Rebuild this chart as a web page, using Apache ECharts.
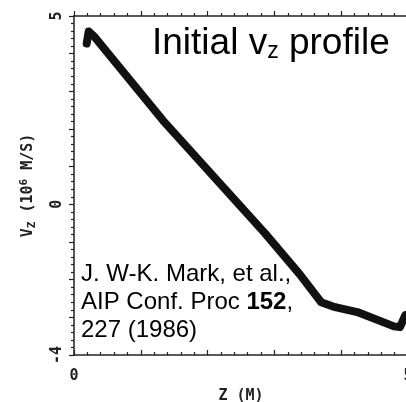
<!DOCTYPE html>
<html>
<head>
<meta charset="utf-8">
<script src="https://cdn.jsdelivr.net/npm/echarts@6/dist/echarts.min.js"></script>
<style>
  html, body { margin: 0; padding: 0; background: #fff; }
  #chart { width: 406px; height: 402px; }
</style>
</head>
<body>
<div id="chart"></div>
<script>
// z in metres, vz in 10^6 m/s
const zVals = [0.19, 0.22, 0.30, 1.33, 2.86, 3.38, 3.70, 3.91, 4.24, 4.79, 4.88, 4.96];
const vzVals = [4.27, 4.59, 4.46, 2.23, -0.77, -1.86, -2.60, -2.73, -2.86, -3.24, -3.26, -2.94];
const xTickLabels = ['0', '5'];
const yTickLabels = { '5': '5', '0': '0', '-4': '-4' };

const plotFont = '"DejaVu Sans Mono", monospace';
const textFont = '"Liberation Sans", Arial, sans-serif';
const ink = '#222';

const chart = echarts.init(document.getElementById('chart'));

const tickStyle = { color: ink, width: 1.2 };

chart.setOption({
  animation: false,
  backgroundColor: '#fff',
  grid: { left: 74, top: 16, right: -2, bottom: 47, outerBoundsMode: 'none' },
  xAxis: [{
    type: 'value', position: 'bottom', min: 0, max: 5, interval: 1,
    name: 'Z (M)', nameLocation: 'middle', nameGap: 34,
    nameTextStyle: { fontFamily: plotFont, fontSize: 15, fontWeight: 'bold', color: ink },
    axisLine: { onZero: false, lineStyle: { color: ink, width: 1.5 } },
    axisTick: { inside: true, length: 5, lineStyle: tickStyle },
    minorTick: { show: true, splitNumber: 5, length: 3, lineStyle: tickStyle },
    splitLine: { show: false },
    axisLabel: {
      margin: 14, fontFamily: plotFont, fontSize: 15, fontWeight: 'bold', color: ink,
      formatter: v => (v === 0 ? xTickLabels[0] : v === 5 ? xTickLabels[1] : '')
    }
  }, {
    type: 'value', position: 'top', min: 0, max: 5, interval: 1,
    axisLine: { onZero: false, lineStyle: { color: ink, width: 1.5 } },
    axisTick: { inside: false, length: 5, lineStyle: tickStyle },
    minorTick: { show: true, splitNumber: 5, length: 3, lineStyle: tickStyle },
    splitLine: { show: false },
    axisLabel: { show: false }
  }],
  yAxis: {
    type: 'value', min: -4, max: 5, interval: 1,
    name: '{n|V}{sub|Z}{n| (10}{sup|6}{n| M/S)}',
    nameLocation: 'middle', nameGap: 36, nameRotate: 90,
    nameTextStyle: {
      rich: {
        n: { fontFamily: plotFont, fontSize: 15, fontWeight: 'bold', color: ink },
        sub: { fontFamily: plotFont, fontSize: 11, fontWeight: 'bold', color: ink, padding: [8, 0, 0, 0] },
        sup: { fontFamily: plotFont, fontSize: 11, fontWeight: 'bold', color: ink, padding: [0, 0, 8, 0] }
      }
    },
    axisLine: { onZero: false, lineStyle: { color: ink, width: 1.5 } },
    axisTick: { inside: false, length: 5, lineStyle: tickStyle },
    minorTick: { show: true, splitNumber: 5, length: 3, lineStyle: tickStyle },
    splitLine: { show: false },
    axisLabel: {
      rotate: 90, margin: 9, fontFamily: plotFont, fontSize: 15, fontWeight: 'bold', color: ink,
      formatter: v => yTickLabels[String(v)] || ''
    }
  },
  series: [{
    type: 'line',
    data: zVals.map((z, i) => [z, vzVals[i]]),
    showSymbol: false,
    clip: false,
    lineStyle: { color: '#111', width: 8, join: 'round', cap: 'round' }
  }],
  graphic: [{
    type: 'text', left: 152, top: 25,
    style: {
      text: '{m|Initial v}{s|z}{m| profile}',
      rich: {
        m: { fontFamily: textFont, fontSize: 37, fill: '#000' },
        s: { fontFamily: textFont, fontSize: 23, fill: '#000', padding: [17, 0, 0, 0] }
      }
    }
  }, {
    type: 'text', left: 81, top: 262,
    style: {
      text: '{t|J. W-K. Mark, et al.,}\n{t|AIP Conf. Proc }{b|152}{t|,}\n{t|227 (1986)}',
      rich: {
        t: { fontFamily: textFont, fontSize: 24, lineHeight: 28, fill: '#000' },
        b: { fontFamily: textFont, fontSize: 24, lineHeight: 28, fontWeight: 'bold', fill: '#000' }
      }
    }
  }]
});
</script>
</body>
</html>
